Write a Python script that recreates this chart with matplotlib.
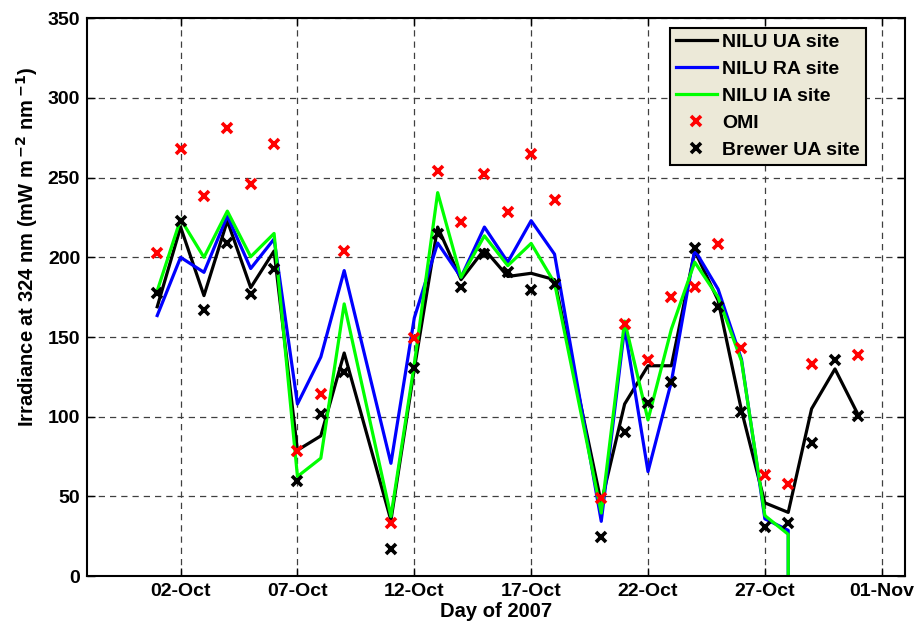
import matplotlib
matplotlib.use('Agg')
import matplotlib.pyplot as plt
import matplotlib.dates as mdates
import numpy as np
from datetime import date

plt.rcParams['font.family'] = ['Liberation Sans', 'DejaVu Sans']
plt.rcParams['font.weight'] = 'bold'

# days of October 2007
nilu_days = [1, 2, 3, 4, 5, 6, 7, 8, 9, 11, 12, 13, 14, 15, 16, 17, 18, 20,
             21, 22, 23, 24, 25, 26, 27, 28, 29, 30, 31]
ua = [169, 219, 176, 223, 181, 204, 79, 88, 140, 35, 130, 219, 186, 205, 188,
      190, 186, 46, 108, 132, 132, 204, 173, 104, 46, 40, 105, 130, 101]

# RA and IA series stop on 28 Oct with a drop to zero
ra_days = [1, 2, 3, 4, 5, 6, 7, 8, 9, 11, 12, 13, 14, 15, 16, 17, 18, 20,
           21, 22, 23, 24, 25, 26, 27, 28, 28]
ra = [163.5, 200, 190.6, 226, 193, 211.5, 108, 137.5, 191.7, 70.8, 162, 209,
      187.5, 219, 197, 223, 202, 34.4, 156, 65.6, 122, 204.6, 180, 136, 36,
      28.75, 0]
ia = [179, 224, 200, 229, 200.4, 215, 62.5, 74, 170.8, 37.5, 133, 240.6,
      187.5, 213.5, 194.8, 208.75, 184, 39.6, 160, 98, 155, 197, 175, 135, 38,
      26.25, 0]

omi_days = [1, 2, 3, 4, 5, 6, 7, 8, 9, 11, 12, 13, 14, 15, 16, 17, 18, 20,
            21, 22, 23, 24, 25, 26, 27, 28, 29, 31]
omi = [202.5, 268, 238.5, 281, 246, 271, 78.5, 114, 204, 33.3, 149.6, 254,
       222, 252, 228.5, 265, 236, 49, 158.3, 135.4, 175.4, 181.7, 208.3, 143,
       63.75, 58, 133.3, 138.75]

brewer = [177.5, 223, 167, 209, 176.7, 193, 59.4, 101.5, 128, 17, 130.6,
          214.6, 181.7, 202, 190.6, 179.8, 183.3, 24.6, 90.6, 108.75, 121.5,
          205.6, 168.75, 102.7, 30.8, 33.3, 83.3, 135.4, 100.6]

tick_dates = [date(2007, 10, 2), date(2007, 10, 7), date(2007, 10, 12),
              date(2007, 10, 17), date(2007, 10, 22), date(2007, 10, 27),
              date(2007, 11, 1)]


def oct_dates(days):
    return [date(2007, 10, d) for d in days]


fig = plt.figure(figsize=(9.17, 6.29), dpi=100)
ax = fig.add_axes([0.095, 0.084, 0.892, 0.887])

ax.plot(oct_dates(nilu_days), ua, color='k', lw=2.3, label='NILU UA site')
ax.plot(oct_dates(ra_days), ra, color='#0000ff', lw=2.3, label='NILU RA site')
ax.plot(oct_dates(ra_days), ia, color='#00ff00', lw=2.3, label='NILU IA site')
ax.plot(oct_dates(omi_days), omi, 'x', color='#ff0000', ms=7, mew=2.6,
        label='OMI')
ax.plot(oct_dates(nilu_days), brewer, 'x', color='k', ms=7, mew=2.6,
        label='Brewer UA site')

ax.set_xlim(date(2007, 9, 28), date(2007, 11, 2))
ax.set_ylim(0, 350)
ax.set_xticks(tick_dates)
ax.xaxis.set_major_formatter(mdates.DateFormatter('%d-%b'))
ax.set_yticks(np.arange(0, 351, 50))

ax.grid(True, ls=(0, (5, 4)), color='#404040', lw=0.9)
ax.tick_params(direction='in', top=True, right=True, length=6, width=1,
               labelsize=14, pad=5)
for s in ax.spines.values():
    s.set_linewidth(1.5)

ax.set_xlabel('Day of 2007', fontsize=14.5, fontweight='bold')
ax.xaxis.set_label_coords(0.5, -0.046)
ax.set_ylabel('Irradiance at 324 nm (mW m$^{\\,\\mathbf{-2}}$ nm$^{\\,\\mathbf{-1}}$)',
              fontsize=14.5, fontweight='bold')
ax.yaxis.set_label_coords(-0.058, 0.59)

leg = ax.legend(loc='upper right', bbox_to_anchor=(0.952, 0.983),
                prop={'weight': 'bold', 'size': 14}, handlelength=2.1,
                handletextpad=0.3, labelspacing=0.48, borderpad=0.3,
                borderaxespad=0, fancybox=False, framealpha=1)
leg.get_frame().set_facecolor('#ece9d8')
leg.get_frame().set_edgecolor('k')
leg.get_frame().set_linewidth(1.5)

fig.savefig('out.png', dpi=100)
